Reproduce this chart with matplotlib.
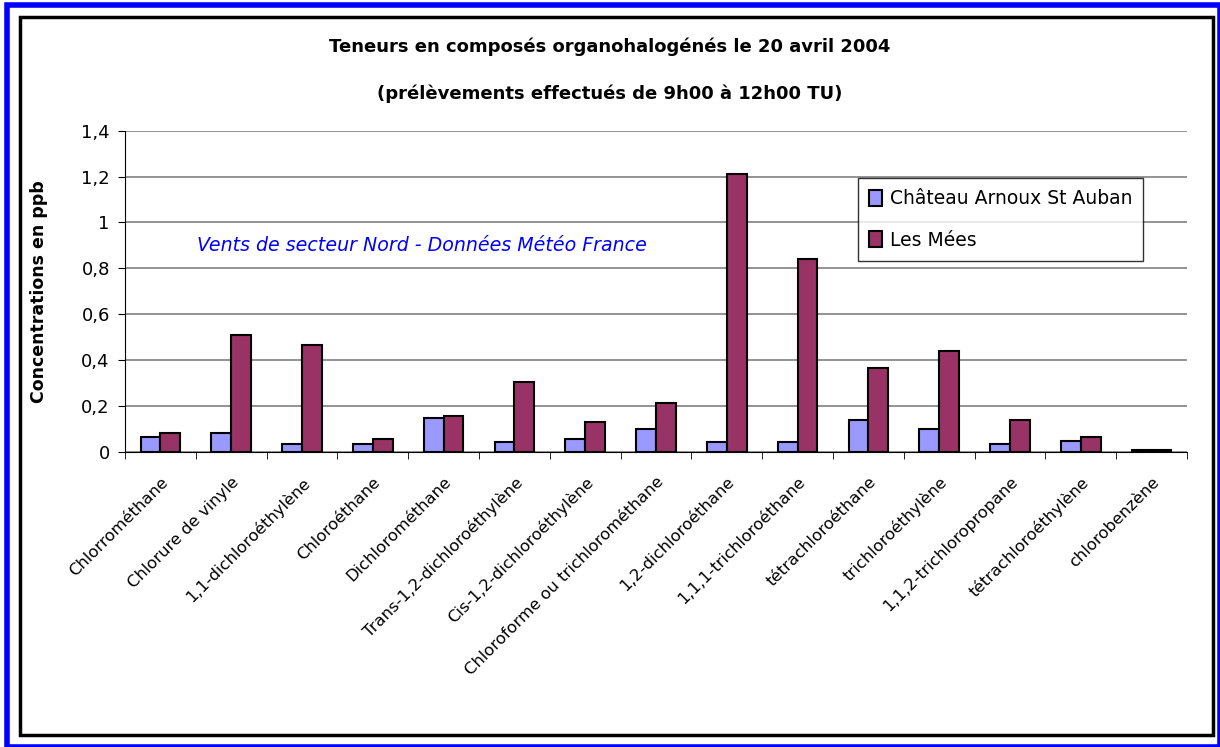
import numpy as np
import matplotlib
matplotlib.use("Agg")
import matplotlib.pyplot as plt
from matplotlib.patches import Rectangle

plt.rcParams['font.family'] = ['DejaVu Sans']

# données
composes = ["Chlorrométhane", "Chlorure de vinyle", "1,1-dichloroéthylène", "Chloroéthane",
            "Dichlorométhane", "Trans-1,2-dichloroéthylène", "Cis-1,2-dichloroéthylène",
            "Chloroforme ou trichlorométhane", "1,2-dichloroéthane", "1,1,1-trichloroéthane",
            "tétrachloroéthane", "trichloroéthylène", "1,1,2-trichloropropane",
            "tétrachloroéthylène", "chlorobenzène"]
chateau = [0.065, 0.083, 0.034, 0.033, 0.149, 0.042, 0.058, 0.099, 0.042, 0.042,
           0.140, 0.099, 0.034, 0.049, 0.008]
mees = [0.083, 0.508, 0.466, 0.058, 0.158, 0.305, 0.132, 0.214, 1.211, 0.842,
        0.366, 0.442, 0.140, 0.067, 0.008]
yticks = [0, 0.2, 0.4, 0.6, 0.8, 1, 1.2, 1.4]
ylabels = ["0", "0,2", "0,4", "0,6", "0,8", "1", "1,2", "1,4"]

fig = plt.figure(figsize=(12.2, 7.47), dpi=100)

# cadres
fig.patches.append(Rectangle((0.0055, 0.0), 0.9945, 0.993, transform=fig.transFigure,
                             fill=False, edgecolor="#0000FF", linewidth=4, zorder=0))
fig.patches.append(Rectangle((0.0163, 0.016), 0.978, 0.961, transform=fig.transFigure,
                             fill=False, edgecolor="black", linewidth=2.5, zorder=0))

ax = fig.add_axes([0.1025, 0.395, 0.8705, 0.43])

x = np.arange(len(composes))
w = 0.28
ax.bar(x - w / 2, chateau, w, color="#9999FF", edgecolor="black", linewidth=1.5,
       label="Château Arnoux St Auban", zorder=3)
ax.bar(x + w / 2, mees, w, color="#993366", edgecolor="black", linewidth=1.5,
       label="Les Mées", zorder=3)

ax.set_xlim(-0.5, len(composes) - 0.5)
ax.set_ylim(0, 1.4)
ax.set_yticks(yticks)
ax.set_yticklabels(ylabels, fontsize=13)
ax.yaxis.grid(True, color="#808080", linewidth=1.2)
ax.set_axisbelow(True)

ax.set_xticks(x)
ax.set_xticklabels(composes, rotation=45, ha="right", rotation_mode="anchor",
                   fontsize=11.8)
ax.set_xticks(np.arange(len(composes) + 1) - 0.5, minor=True)
ax.tick_params(axis="x", which="major", length=0, pad=16)
ax.tick_params(axis="x", which="minor", length=5, direction="out")
ax.tick_params(axis="y", length=5, direction="out", pad=6)

for s in ["top", "right"]:
    ax.spines[s].set_visible(False)

ax.set_ylabel("Concentrations en ppb", fontsize=12.5, fontweight="bold")
ax.yaxis.set_label_coords(-0.073, 0.5)

ax.text(0.52, 0.898, "Vents de secteur Nord - Données Météo France", color="#0000FF",
        fontsize=13.7, style="italic", va="center", ha="left")

leg = ax.legend(loc="upper left", bbox_to_anchor=(0.69, 0.853), borderaxespad=0,
                fontsize=13.5, frameon=True, fancybox=False, edgecolor="black",
                handlelength=0.7, handleheight=0.9, handletextpad=0.4,
                labelspacing=1.2, borderpad=0.6)
leg.get_frame().set_linewidth(1.0)

fig.text(0.5, 0.937, "Teneurs en composés organohalogénés le 20 avril 2004",
         ha="center", va="center", fontsize=13, fontweight="bold")
fig.text(0.5, 0.875, "(prélèvements effectués de 9h00 à 12h00 TU)",
         ha="center", va="center", fontsize=13, fontweight="bold")

fig.savefig("out.png", dpi=100)
